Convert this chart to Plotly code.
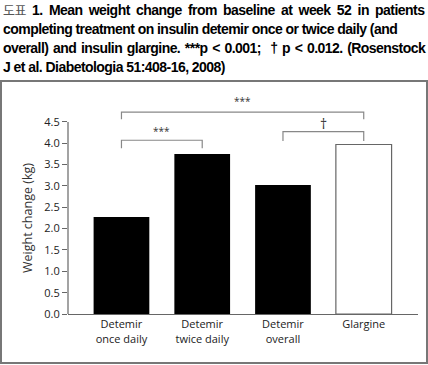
import plotly.graph_objects as go

categories = ["Detemir<br>once daily", "Detemir<br>twice daily", "Detemir<br>overall", "Glargine"]
weight_change = [2.27, 3.75, 3.02, 3.97]
bar_fills = ["black", "black", "black", "white"]
y_ticks = [0.0, 0.5, 1.0, 1.5, 2.0, 2.5, 3.0, 3.5, 4.0, 4.5]
y_tick_labels = ["0.0", "0.5", "1.0", "1.5", "2.0", "2.5", "3.0", "3.5", "4.0", "4.5"]
# significance brackets: (left bar, right bar, bracket level, leg bottom, label, label level)
brackets = [
    (0, 1, 4.07, 3.88, "***", 4.29),
    (0, 3, 4.73, 4.56, "***", 4.99),
    (2, 3, 4.27, 4.05, "†", 4.46),
]
title_lines = [
    '<span style="font-weight:normal;font-family:Noto Sans CJK KR;color:#555;font-size:13px">도표</span> 1. Mean weight change from baseline at week 52 in patients',
    "completing treatment on insulin detemir once or twice daily (and",
    "overall) and insulin glargine. ***p &lt; 0.001;  † p &lt; 0.012. (Rosenstock",
    "J et al. Diabetologia 51:408-16, 2008)",
]
title_word_spacing = [2.9, 0, 1.3, 0]
title_line_centers = [9.5, 29, 48.5, 67.5]

W, H = 428, 365
ML, MR, MT, MB = 68, 10, 92, 51
YMAX = 5.2
x_idx = list(range(len(categories)))

fig = go.Figure()
fig.add_trace(go.Bar(
    x=x_idx, y=weight_change, width=0.69,
    marker=dict(color=bar_fills, line=dict(color="#666", width=[0, 0, 0, 1.2])),
    showlegend=False, hoverinfo="skip",
))

shapes = []
annotations = []
# y axis line from 0 to top tick
shapes.append(dict(type="line", xref="paper", yref="y", x0=0, x1=0,
                   y0=y_ticks[0], y1=y_ticks[-1], line=dict(color="#666", width=1.2)))
for a, b, lvl, leg, lab, lab_y in brackets:
    shapes.append(dict(type="path", xref="x", yref="y",
                       path=f"M {a},{leg} L {a},{lvl} L {b},{lvl} L {b},{leg}",
                       line=dict(color="#888", width=1.2)))
    annotations.append(dict(x=(a + b) / 2, y=lab_y, xref="x", yref="y", text=lab,
                            showarrow=False, font=dict(size=10 if lab == "***" else 14, color="#333",
                                                       family="Open Sans, sans-serif")))

pw, ph = W - ML - MR, H - MT - MB
def px_x(p): return (p - ML) / pw
def px_y(p): return (H - MB - p) / ph

# outer frame around chart panel
shapes.append(dict(type="rect", xref="paper", yref="paper",
                   x0=px_x(1), x1=px_x(427), y0=px_y(363), y1=px_y(81),
                   line=dict(color="#777", width=2)))

for line, ws, cy in zip(title_lines, title_word_spacing, title_line_centers):
    annotations.append(dict(
        x=px_x(0.5), y=px_y(cy), xref="paper", yref="paper", xanchor="left", yanchor="middle",
        showarrow=False, align="left",
        text=f'<span style="letter-spacing:-0.55px;word-spacing:{ws}px">{line}</span>',
        font=dict(family="Liberation Sans, Arial, sans-serif", size=14, color="black", weight="bold"),
    ))

annotations.append(dict(
    x=px_x(27), y=px_y(218), xref="paper", yref="paper", textangle=-90,
    xanchor="center", yanchor="middle",
    text="Weight change (kg)", showarrow=False,
    font=dict(family="Open Sans, sans-serif", size=12.5, color="#333")))

fig.update_layout(
    width=W, height=H,
    margin=dict(l=ML, r=MR, t=MT, b=MB),
    paper_bgcolor="white", plot_bgcolor="white",
    xaxis=dict(range=[-0.662, 3.672], tickvals=x_idx, ticktext=categories,
               showline=True, linecolor="#666", linewidth=1.2, ticks="",
               showgrid=False, zeroline=False,
               tickfont=dict(family="Open Sans, sans-serif", size=11, color="#222")),
    yaxis=dict(range=[0, YMAX], tickvals=y_ticks, ticktext=y_tick_labels,
               showline=False, ticks="outside", ticklen=5, tickcolor="#666", tickwidth=1.2,
               showgrid=False, zeroline=False,
               tickfont=dict(family="Open Sans, sans-serif", size=11, color="#222")),
    shapes=shapes, annotations=annotations,
)
fig.write_html("out.html", config={"displayModeBar": False},
               post_script="document.body.style.margin='0';")
